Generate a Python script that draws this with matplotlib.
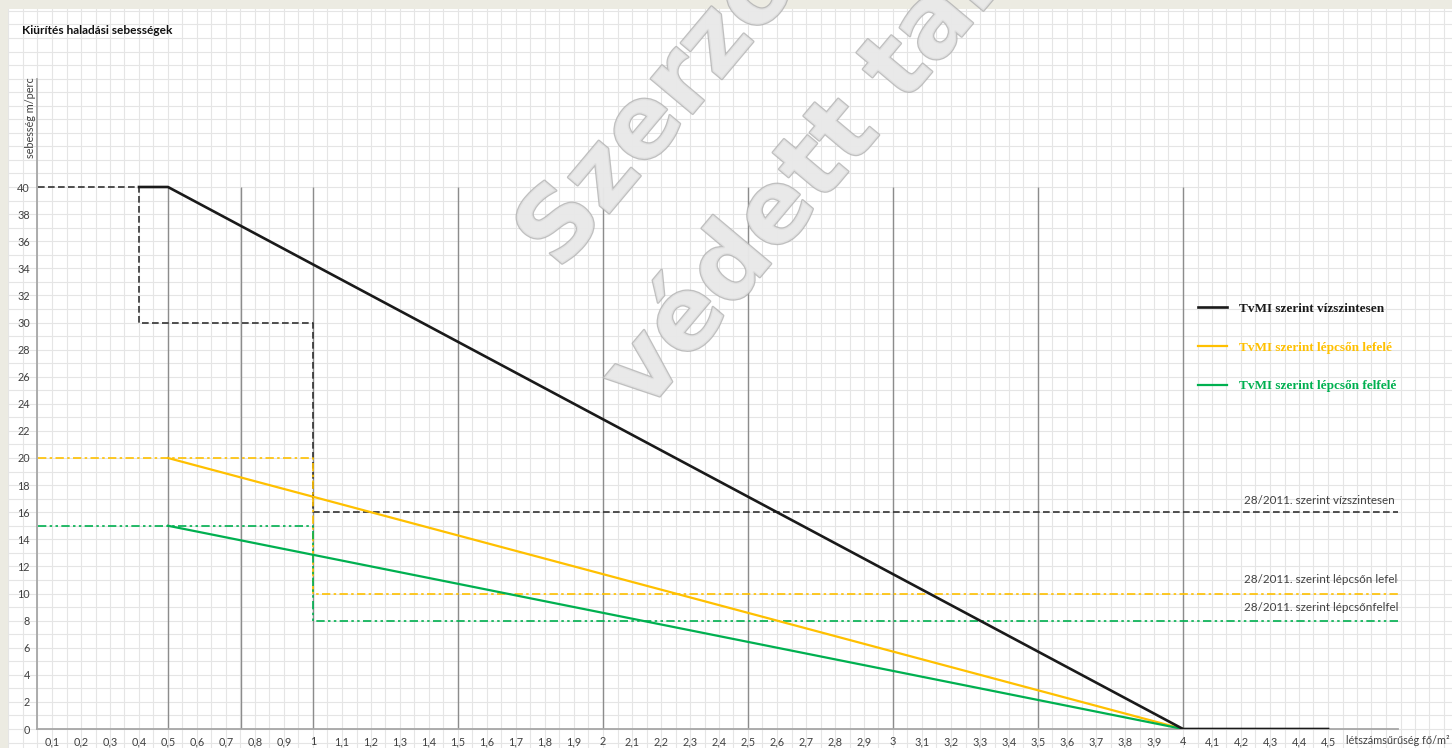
import numpy as np
import matplotlib
matplotlib.use("Agg")
from matplotlib import pyplot as plt
from matplotlib import patheffects as pe

W, H = 1452, 748

title = "Kiürítés haladási sebességek"
y_title = "sebesség m/perc"
x_title = "létszámsűrűség fő/m²"

# TvMI curves
tvmi_horiz_x = [0.4, 0.5, 4.0, 4.5]
tvmi_horiz_y = [40, 40, 0, 0]
tvmi_stair_x = [0.5, 4.0]
tvmi_down_y = [20, 0]
tvmi_up_y = [15, 0]

# 28/2011 step curves
law_horiz_x = [0.05, 0.4, 0.4, 1.0, 1.0, 4.74]
law_horiz_y = [40, 40, 30, 30, 16, 16]
law_stair_x = [0.05, 1.0, 1.0, 4.74]
law_down_y = [20, 20, 10, 10]
law_up_y = [15, 15, 8, 8]

ref_x = [0.5, 0.75, 1, 1.5, 2, 2.5, 3, 3.5, 4]
ref_top = 40

legend_labels = ["TvMI szerint vízszintesen", "TvMI szerint lépcsőn lefelé",
                 "TvMI szerint lépcsőn felfelé"]
law_labels = ["28/2011. szerint vízszintesen", "28/2011. szerint lépcsőn lefelé",
              "28/2011. szerint lépcsőnfelfelé"]
law_label_y = [16.9, 11.0, 9.0]

x_ticks = np.round(np.arange(0.1, 4.51, 0.1), 1)
y_ticks = np.arange(0, 41, 2)

BLACK = "#1a1a1a"
GOLD = "#ffc000"
GREEN = "#00b050"
TICK = "#404040"

plt.rcParams['font.family'] = ['Lato', 'DejaVu Sans']

fig = plt.figure(figsize=(W / 100, H / 100), dpi=100, facecolor="#ecebe2")

# pixel -> data mapping of the main axes
x0_px, x_px = 23, 290.0      # pixel of x=0, pixels per unit
y0_px, y_px = 729, 13.55     # pixel of y=0, pixels per unit

# graph paper background
bg = fig.add_axes([8 / W, 0, 1 - 8 / W, 1 - 9 / H])
bg.set_facecolor("white")
bg.set_xlim((8 - x0_px) / x_px, (W - x0_px) / x_px)
bg.set_ylim((y0_px - H) / y_px, (y0_px - 9) / y_px)
for gx in np.arange(-0.05, 5.0, 0.05):
    bg.axvline(gx, color="#e5e5e5", lw=0.8)
for gy in np.arange(-2, 55, 1):
    bg.axhline(gy, color="#e5e5e5", lw=0.8)
for s in bg.spines.values():
    s.set_visible(False)
bg.set_xticks([])
bg.set_yticks([])

ax_left, ax_right, ax_top = 37, 1398, 79
ax = fig.add_axes([ax_left / W, (H - y0_px) / H, (ax_right - ax_left) / W,
                   (y0_px - ax_top) / H])
ax.set_facecolor("none")
ax.set_xlim((ax_left - x0_px) / x_px, (ax_right - x0_px) / x_px)
ax.set_ylim(0, (y0_px - ax_top) / y_px)

ax.vlines(ref_x, 0, ref_top, color="#8c8c8c", lw=1.0, zorder=1)

ax.plot(law_horiz_x, law_horiz_y, color="#333333", lw=1.2, dashes=(4, 2), zorder=2)
ax.plot(law_stair_x, law_down_y, color=GOLD, lw=1.2, dashes=(5, 2, 1.5, 2), zorder=2)
ax.plot(law_stair_x, law_up_y, color=GREEN, lw=1.2, dashes=(5, 2, 1.5, 2, 1.5, 2), zorder=2)

h1, = ax.plot(tvmi_horiz_x, tvmi_horiz_y, color=BLACK, lw=1.9, zorder=4)
h2, = ax.plot(tvmi_stair_x, tvmi_down_y, color=GOLD, lw=1.6, zorder=3)
h3, = ax.plot(tvmi_stair_x, tvmi_up_y, color=GREEN, lw=1.6, zorder=3)

for lbl, ly in zip(law_labels, law_label_y):
    ax.text(4.21, ly, lbl, fontsize=8.4, color=TICK, ha="left", va="center",
            clip_on=True)

leg = ax.legend([h1, h2, h3], legend_labels, loc="upper left",
                bbox_to_anchor=(1186 / W, 1 - 291 / H), bbox_transform=fig.transFigure,
                frameon=False, handlelength=2.2, labelspacing=2.0, handletextpad=0.9,
                prop={"family": "Liberation Serif", "weight": "bold", "size": 9.5},
                labelcolor="linecolor")

ax.set_xticks(x_ticks)
ax.set_xticklabels([f"{v:g}".replace(".", ",") for v in x_ticks])
ax.set_yticks(y_ticks)
ax.tick_params(length=0, labelsize=7.8, labelcolor=TICK, pad=5)
for side in ("top", "right"):
    ax.spines[side].set_visible(False)
for side in ("left", "bottom"):
    ax.spines[side].set_color("#a6a6a6")
    ax.spines[side].set_linewidth(1.3)

fig.text(22 / W, 1 - 31 / H, title, fontsize=8.6, fontweight="bold", color="#111111",
         ha="left", va="center")
fig.text(30 / W, 1 - 118 / H, y_title, fontsize=7.8, color=TICK, rotation=90,
         ha="center", va="center")
fig.text(1346 / W, 1 - 740 / H, x_title, fontsize=7.8, color=TICK, ha="left", va="center")

# watermark
wm = dict(fontsize=72, fontweight="bold", family="DejaVu Sans", rotation=50,
          rotation_mode="anchor", ha="left", va="baseline", color="#e9e9e9",
          alpha=0.8, zorder=10,
          path_effects=[pe.withStroke(linewidth=1.8, foreground="#b0b0b0")])
fig.text(560 / W, 1 - 272 / H, "Szerzői jogilag", **wm)
fig.text(645 / W, 1 - 414 / H, "védett tartalom", **wm)

fig.savefig("out.png", dpi=100, facecolor=fig.get_facecolor())
